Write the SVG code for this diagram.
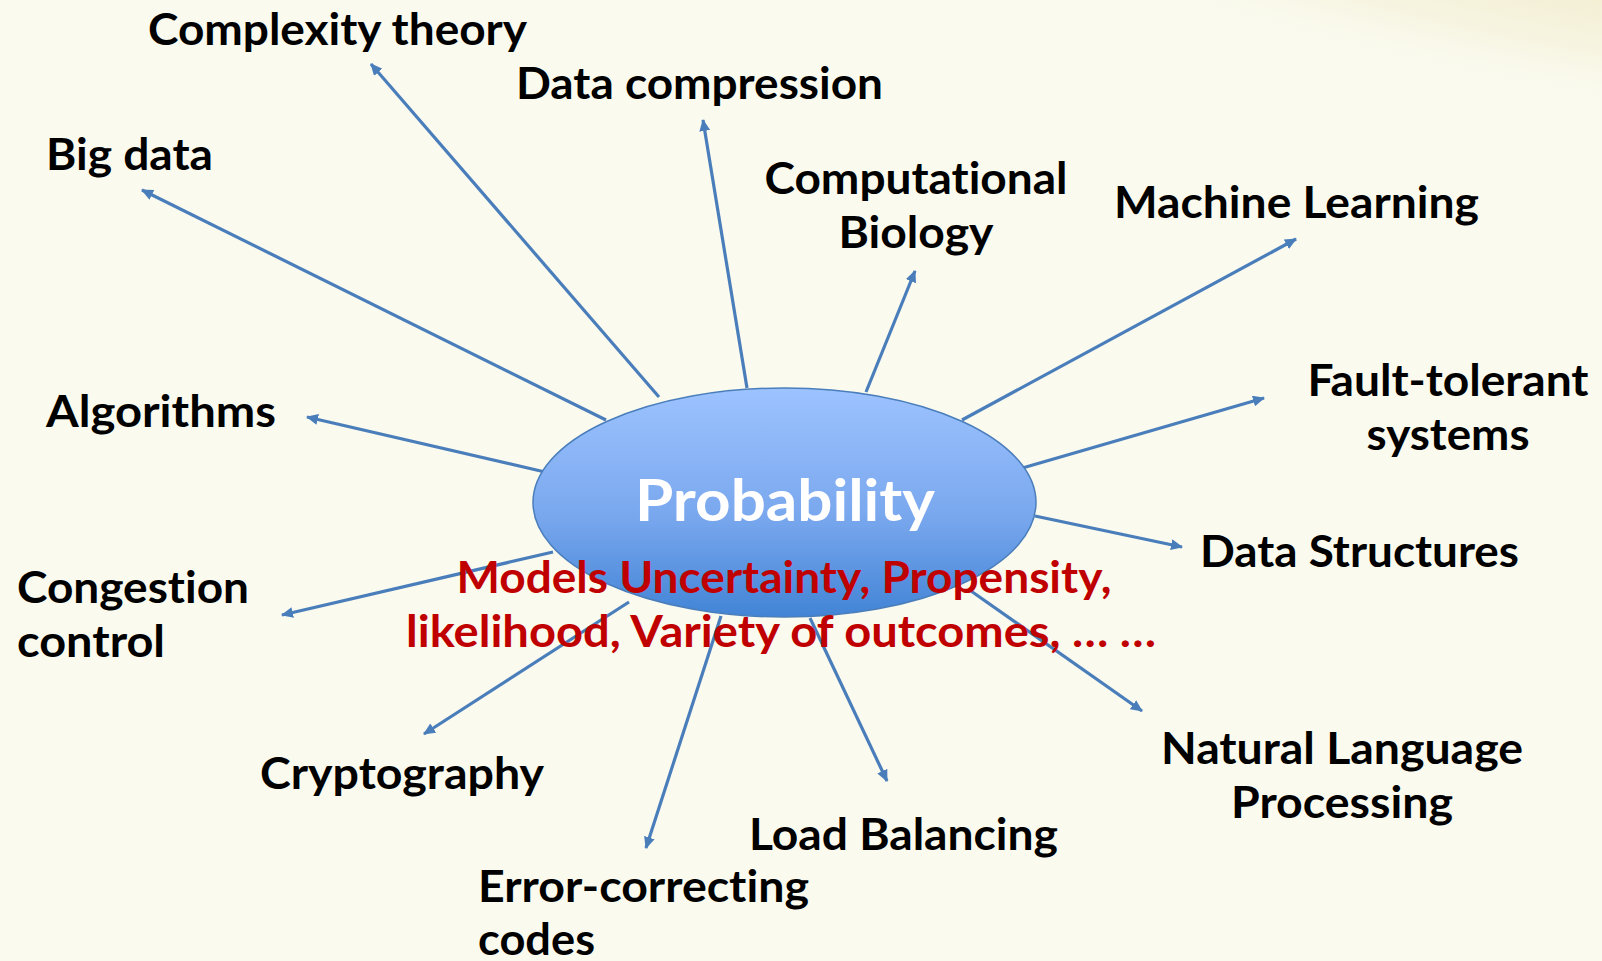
<svg xmlns="http://www.w3.org/2000/svg" width="1602" height="961" viewBox="0 0 1602 961">
  <defs>
    <linearGradient id="bubbleFill" x1="0" y1="0" x2="0" y2="1">
      <stop offset="0" stop-color="#9DC3FF"/>
      <stop offset="0.55" stop-color="#7AA8EE"/>
      <stop offset="1" stop-color="#4284D6"/>
    </linearGradient>
    <radialGradient id="cornerGlow">
      <stop offset="0" stop-color="#ECE2B8"/>
      <stop offset="0.55" stop-color="#F2ECCF"/>
      <stop offset="0.8" stop-color="#F7F5E2"/>
      <stop offset="1" stop-color="#FAFAEF" stop-opacity="0"/>
    </radialGradient>
    <marker id="arrow" viewBox="0 0 12 11" refX="11" refY="5.5" markerWidth="12" markerHeight="11" markerUnits="userSpaceOnUse" orient="auto">
      <path d="M0,0 L12,5.5 L0,11 Z" fill="#4A7EBB"/>
    </marker>
    <style>
      text { font-variant-ligatures: none; font-feature-settings: "liga" 0, "clig" 0; }
      .label { font-family: Lato, "Liberation Sans", sans-serif; font-weight: bold; font-size: 43px; fill: #000; }
      .mid { text-anchor: middle; }
      .title { font-family: Lato, "Liberation Sans", sans-serif; font-weight: bold; font-size: 57px; fill: #FFFFFF; text-anchor: middle; }
      .note { font-family: Lato, "Liberation Sans", sans-serif; font-weight: bold; font-size: 44px; fill: #C00000; text-anchor: middle; }
      .link { stroke: #4A7EBB; stroke-width: 3.2; fill: none; marker-end: url(#arrow); }
    </style>
  </defs>

  <!-- background with a soft warm swoosh in the upper right -->
  <rect width="1602" height="961" fill="#FAFAEF"/>
  <ellipse cx="1720" cy="-170" rx="1050" ry="300" transform="rotate(8 1720 -170)" fill="url(#cornerGlow)"/>

  <!-- connectors radiating from the central bubble -->
  <g id="connectors">
    <line class="link" x1="659" y1="397" x2="371" y2="64"/>
    <line class="link" x1="747" y1="388" x2="703" y2="120"/>
    <line class="link" x1="606" y1="420" x2="142" y2="190"/>
    <line class="link" x1="866" y1="392" x2="915" y2="271"/>
    <line class="link" x1="962" y1="420" x2="1296" y2="239"/>
    <line class="link" x1="1019" y1="469" x2="1264" y2="398"/>
    <line class="link" x1="545" y1="472" x2="307" y2="417"/>
    <line class="link" x1="1035" y1="516" x2="1182" y2="547"/>
    <line class="link" x1="553" y1="552" x2="282" y2="615"/>
    <line class="link" x1="629" y1="602" x2="424" y2="734"/>
    <line class="link" x1="721" y1="616" x2="646" y2="848"/>
    <line class="link" x1="810" y1="618" x2="887" y2="781"/>
    <line class="link" x1="971" y1="591" x2="1142" y2="711"/>
  </g>

  <!-- central node -->
  <g id="probability">
    <ellipse cx="784.5" cy="502.5" rx="251.5" ry="114.5" fill="url(#bubbleFill)" stroke="#4A7EBB" stroke-width="1.5"/>
    <text class="title" x="785" y="521" textLength="300" lengthAdjust="spacingAndGlyphs">Probability</text>
  </g>

  <g id="description">
    <text class="note" x="784" y="593" textLength="655" lengthAdjust="spacingAndGlyphs">Models Uncertainty, Propensity,</text>
    <text class="note" x="781" y="647" textLength="750" lengthAdjust="spacingAndGlyphs">likelihood, Variety of outcomes, … …</text>
  </g>

  <!-- application areas -->
  <g id="complexity-theory">
    <text class="label" x="148" y="45" textLength="379" lengthAdjust="spacingAndGlyphs">Complexity theory</text>
  </g>
  <g id="data-compression">
    <text class="label" x="516" y="99" textLength="367" lengthAdjust="spacingAndGlyphs">Data compression</text>
  </g>
  <g id="big-data">
    <text class="label" x="46" y="170" textLength="167" lengthAdjust="spacingAndGlyphs">Big data</text>
  </g>
  <g id="computational-biology">
    <text class="label mid" x="916" y="194" textLength="303" lengthAdjust="spacingAndGlyphs">Computational</text>
    <text class="label mid" x="916" y="248" textLength="155" lengthAdjust="spacingAndGlyphs">Biology</text>
  </g>
  <g id="machine-learning">
    <text class="label" x="1114" y="218" textLength="365" lengthAdjust="spacingAndGlyphs">Machine Learning</text>
  </g>
  <g id="fault-tolerant-systems">
    <text class="label mid" x="1448" y="396" textLength="281" lengthAdjust="spacingAndGlyphs">Fault-tolerant</text>
    <text class="label mid" x="1448" y="450" textLength="163" lengthAdjust="spacingAndGlyphs">systems</text>
  </g>
  <g id="algorithms">
    <text class="label" x="46" y="427" textLength="230" lengthAdjust="spacingAndGlyphs">Algorithms</text>
  </g>
  <g id="data-structures">
    <text class="label" x="1200" y="567" textLength="319" lengthAdjust="spacingAndGlyphs">Data Structures</text>
  </g>
  <g id="congestion-control">
    <text class="label" x="17" y="603" textLength="232" lengthAdjust="spacingAndGlyphs">Congestion</text>
    <text class="label" x="17" y="657" textLength="148" lengthAdjust="spacingAndGlyphs">control</text>
  </g>
  <g id="cryptography">
    <text class="label" x="260" y="789" textLength="284" lengthAdjust="spacingAndGlyphs">Cryptography</text>
  </g>
  <g id="natural-language-processing">
    <text class="label mid" x="1342" y="764" textLength="362" lengthAdjust="spacingAndGlyphs">Natural Language</text>
    <text class="label mid" x="1342" y="818" textLength="222" lengthAdjust="spacingAndGlyphs">Processing</text>
  </g>
  <g id="load-balancing">
    <text class="label" x="749" y="850" textLength="309" lengthAdjust="spacingAndGlyphs">Load Balancing</text>
  </g>
  <g id="error-correcting-codes">
    <text class="label" x="478" y="902" textLength="331" lengthAdjust="spacingAndGlyphs">Error-correcting</text>
    <text class="label" x="478" y="955" textLength="117" lengthAdjust="spacingAndGlyphs">codes</text>
  </g>
</svg>
